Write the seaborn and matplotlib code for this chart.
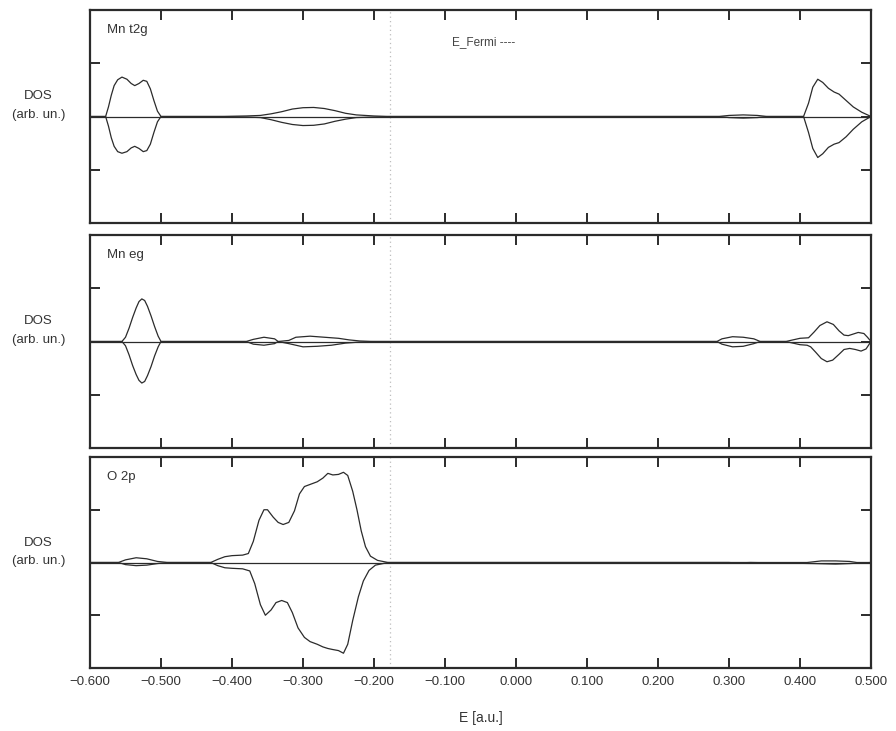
import matplotlib
matplotlib.use("Agg")
import matplotlib.pyplot as plt
import seaborn as sns
import pandas as pd

# ---- data: spin-resolved partial DOS (arbitrary units) ----
panel_names = ["Mn t2g", "Mn eg", "O 2p"]
e_fermi = -0.178

t2g_up_e = [-0.600, -0.578, -0.574, -0.570, -0.566, -0.561, -0.555, -0.548, -0.542, -0.537, -0.531, -0.525,
            -0.520, -0.515, -0.510, -0.505, -0.500, -0.420, -0.380, -0.360, -0.345, -0.330, -0.315, -0.300,
            -0.285, -0.270, -0.255, -0.240, -0.225, -0.200, -0.177, 0.285, 0.300, 0.320, 0.340, 0.354, 0.405,
            0.412, 0.418, 0.425, 0.432, 0.440, 0.448, 0.455, 0.465, 0.475, 0.487, 0.500]
t2g_up_d = [0.0, 0.0, 0.18, 0.40, 0.58, 0.69, 0.74, 0.70, 0.62, 0.58, 0.62, 0.68,
            0.66, 0.52, 0.30, 0.10, 0.0, 0.0, 0.01, 0.02, 0.05, 0.09, 0.14, 0.165,
            0.17, 0.15, 0.11, 0.06, 0.03, 0.01, 0.0, 0.0, 0.02, 0.03, 0.02, 0.0, 0.0,
            0.25, 0.55, 0.70, 0.64, 0.53, 0.46, 0.42, 0.30, 0.18, 0.08, 0.0]
t2g_dn_e = [-0.600, -0.578, -0.574, -0.570, -0.566, -0.561, -0.555, -0.548, -0.542, -0.537, -0.531, -0.525,
            -0.520, -0.515, -0.510, -0.505, -0.500, -0.420, -0.380, -0.360, -0.345, -0.330, -0.315, -0.300,
            -0.285, -0.270, -0.255, -0.240, -0.225, -0.200, -0.177, 0.285, 0.300, 0.320, 0.340, 0.354, 0.405,
            0.412, 0.418, 0.425, 0.432, 0.440, 0.448, 0.455, 0.465, 0.475, 0.487, 0.500]
t2g_dn_d = [0.0, 0.0, -0.18, -0.40, -0.56, -0.66, -0.69, -0.66, -0.59, -0.56, -0.60, -0.66,
            -0.64, -0.52, -0.30, -0.10, 0.0, 0.0, -0.01, -0.02, -0.06, -0.11, -0.15, -0.17,
            -0.165, -0.14, -0.09, -0.05, -0.02, -0.01, 0.0, 0.0, -0.02, -0.03, -0.02, 0.0, 0.0,
            -0.30, -0.60, -0.77, -0.70, -0.58, -0.52, -0.49, -0.38, -0.24, -0.10, 0.0]

eg_up_e = [-0.600, -0.555, -0.550, -0.545, -0.540, -0.535, -0.531, -0.527, -0.523, -0.519, -0.514, -0.509,
           -0.504, -0.500, -0.380, -0.370, -0.355, -0.340, -0.335, -0.320, -0.310, -0.290, -0.270, -0.250,
           -0.235, -0.220, -0.200, 0.283, 0.290, 0.305, 0.320, 0.335, 0.344, 0.380, 0.390, 0.400, 0.412,
           0.420, 0.428, 0.438, 0.447, 0.455, 0.462, 0.468, 0.475, 0.482, 0.490, 0.495, 0.500]
eg_up_d = [0.0, 0.0, 0.08, 0.25, 0.45, 0.63, 0.75, 0.80, 0.77, 0.66, 0.48, 0.28,
           0.10, 0.0, 0.0, 0.04, 0.08, 0.05, 0.0, 0.02, 0.08, 0.10, 0.08, 0.06,
           0.03, 0.01, 0.0, 0.0, 0.05, 0.09, 0.08, 0.05, 0.0, 0.0, 0.03, 0.06, 0.07,
           0.18, 0.30, 0.37, 0.32, 0.20, 0.12, 0.11, 0.14, 0.17, 0.15, 0.08, 0.0]
eg_dn_e = [-0.600, -0.555, -0.550, -0.545, -0.540, -0.535, -0.531, -0.527, -0.523, -0.519, -0.514, -0.509,
           -0.504, -0.500, -0.380, -0.370, -0.355, -0.340, -0.335, -0.320, -0.300, -0.280, -0.260, -0.240,
           -0.220, -0.200, 0.283, 0.290, 0.305, 0.320, 0.335, 0.344, 0.380, 0.390, 0.400, 0.410, 0.415,
           0.422, 0.430, 0.438, 0.446, 0.455, 0.462, 0.470, 0.478, 0.486, 0.493, 0.500]
eg_dn_d = [0.0, 0.0, -0.08, -0.25, -0.45, -0.62, -0.73, -0.78, -0.75, -0.64, -0.47, -0.27,
           -0.10, 0.0, 0.0, -0.05, -0.07, -0.04, 0.0, -0.04, -0.10, -0.09, -0.07, -0.03,
           -0.01, 0.0, 0.0, -0.05, -0.10, -0.09, -0.04, 0.0, 0.0, -0.03, -0.06, -0.07, -0.10,
           -0.20, -0.32, -0.38, -0.35, -0.24, -0.15, -0.13, -0.15, -0.18, -0.14, 0.0]

o2p_up_e = [-0.600, -0.560, -0.550, -0.535, -0.520, -0.505, -0.490, -0.430, -0.420, -0.410, -0.400, -0.385,
            -0.377, -0.370, -0.362, -0.355, -0.350, -0.342, -0.335, -0.328, -0.320, -0.312, -0.305, -0.298,
            -0.290, -0.280, -0.272, -0.265, -0.258, -0.250, -0.243, -0.237, -0.230, -0.224, -0.218, -0.212,
            -0.205, -0.195, -0.180, 0.410, 0.430, 0.450, 0.470, 0.480, 0.500]
o2p_up_d = [0.0, 0.0, 0.05, 0.09, 0.07, 0.02, 0.0, 0.0, 0.06, 0.11, 0.13, 0.14,
            0.17, 0.40, 0.80, 1.00, 1.00, 0.86, 0.76, 0.72, 0.76, 0.98, 1.30, 1.44,
            1.48, 1.53, 1.60, 1.69, 1.66, 1.67, 1.71, 1.65, 1.35, 1.00, 0.60, 0.30,
            0.12, 0.04, 0.0, 0.0, 0.03, 0.03, 0.02, 0.0, 0.0]
o2p_dn_e = [-0.600, -0.560, -0.550, -0.535, -0.520, -0.505, -0.490, -0.430, -0.420, -0.410, -0.400, -0.385,
            -0.375, -0.368, -0.360, -0.353, -0.345, -0.338, -0.330, -0.322, -0.315, -0.307, -0.298, -0.290,
            -0.280, -0.272, -0.265, -0.258, -0.250, -0.243, -0.237, -0.230, -0.222, -0.215, -0.207, -0.198,
            -0.180, 0.300, 0.310, 0.330, 0.420, 0.450, 0.470, 0.500]
o2p_dn_d = [0.0, 0.0, -0.04, -0.06, -0.05, -0.02, 0.0, 0.0, -0.06, -0.10, -0.11, -0.12,
            -0.16, -0.40, -0.80, -1.00, -0.90, -0.76, -0.72, -0.76, -0.95, -1.24, -1.42, -1.50,
            -1.55, -1.60, -1.63, -1.65, -1.67, -1.72, -1.55, -1.10, -0.65, -0.35, -0.15, -0.05,
            0.0, 0.0, -0.01, 0.0, -0.02, -0.03, -0.02, 0.0]

x_ticks = [-0.6, -0.5, -0.4, -0.3, -0.2, -0.1, 0.0, 0.1, 0.2, 0.3, 0.4, 0.5]
x_tick_labels = ["\u22120.600", "\u22120.500", "\u22120.400", "\u22120.300", "\u22120.200", "\u22120.100",
                 "0.000", "0.100", "0.200", "0.300", "0.400", "0.500"]

panels = [
    (t2g_up_e, t2g_up_d, t2g_dn_e, t2g_dn_d),
    (eg_up_e, eg_up_d, eg_dn_e, eg_dn_d),
    (o2p_up_e, o2p_up_d, o2p_dn_e, o2p_dn_d),
]

sns.set_theme(style="ticks")
plt.rcParams["font.family"] = ["Liberation Sans", "DejaVu Sans"]

fig = plt.figure(figsize=(8.96, 7.31), dpi=100)
left, width = 90 / 896, 781 / 896
rects = [(10, 223), (235, 448), (457, 668)]
ink = "#2b2b2b"
txt = "#333333"

for i, ((ue, ud, de, dd), (top, bot)) in enumerate(zip(panels, rects)):
    ax = fig.add_axes([left, 1 - bot / 731, width, (bot - top) / 731])
    base = pd.DataFrame({"E": [-0.6, 0.5], "DOS": [0.0, 0.0]})
    sns.lineplot(data=base, x="E", y="DOS", ax=ax, color=ink, lw=0.9, estimator=None, sort=False)
    up = pd.DataFrame({"E": ue, "DOS": ud})
    dn = pd.DataFrame({"E": de, "DOS": dd})
    sns.lineplot(data=up, x="E", y="DOS", ax=ax, color=ink, lw=0.9, estimator=None, sort=False)
    sns.lineplot(data=dn, x="E", y="DOS", ax=ax, color=ink, lw=0.9, estimator=None, sort=False)
    ax.axvline(e_fermi, color="#bdbdbd", lw=0.9, ls=(0, (1, 2.5)), zorder=0)

    ax.set_xlim(-0.6, 0.5)
    ax.set_ylim(-2.0, 2.0)
    ax.set_xticks(x_ticks)
    ax.set_yticks([-1, 0, 1])
    ax.set_yticklabels([])
    ax.tick_params(direction="in", length=7, width=1.4, color=ink,
                   top=True, right=True, labelsize=9.5, labelcolor=txt, pad=6)
    if i == 2:
        ax.set_xticklabels(x_tick_labels)
        ax.set_xlabel("E [a.u.]", fontsize=10, color=txt, labelpad=16)
    else:
        ax.set_xticklabels([])
        ax.set_xlabel("")
    ax.set_ylabel("")
    for sp in ax.spines.values():
        sp.set_linewidth(1.6)
        sp.set_color(ink)

    ax.text(0.022, 0.905, panel_names[i], transform=ax.transAxes, fontsize=9.5,
            color=txt, va="center", ha="left")
    ax.text(-0.066, 0.55, "DOS\n(arb. un.)", transform=ax.transAxes, fontsize=9.5,
            color=txt, va="center", ha="center", linespacing=1.75)
    if i == 0:
        ax.text(-0.09, 1.4, "E_Fermi ----", transform=ax.transData, fontsize=8.5,
                color="#444444", va="center", ha="left")

fig.savefig("out.png", dpi=100)
